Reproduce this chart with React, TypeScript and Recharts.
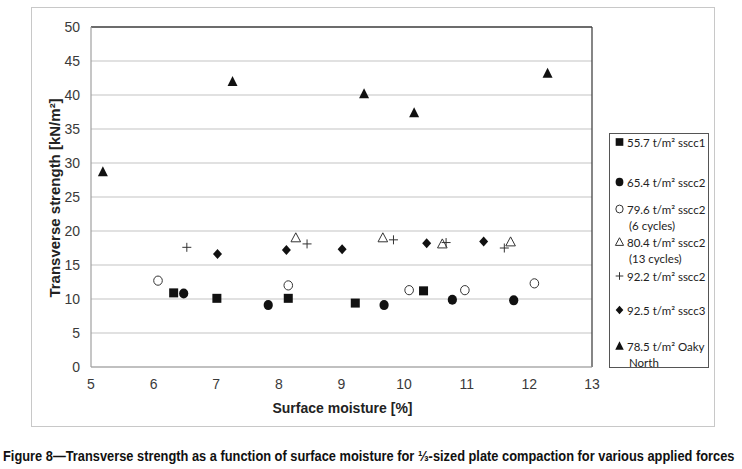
import React, { useLayoutEffect, useRef, useState } from 'react';
import {
  ScatterChart, Scatter, XAxis, YAxis, CartesianGrid, ReferenceLine,
} from 'recharts';

// Datos: [humedad superficial %, resistencia kN/m²]
const sscc1_557: [number, number][] = [
  [6.32, 10.9], [7.01, 10.1], [8.15, 10.1], [9.22, 9.4], [10.31, 11.2],
];
const sscc2_654: [number, number][] = [
  [6.48, 10.8], [7.83, 9.1], [9.68, 9.1], [10.77, 9.9], [11.75, 9.8],
];
const sscc2_796: [number, number][] = [
  [6.07, 12.7], [8.15, 12.0], [10.08, 11.3], [10.97, 11.3], [12.08, 12.3],
];
const sscc2_804: [number, number][] = [
  [8.27, 19.0], [9.66, 19.0], [10.61, 18.1], [11.7, 18.4],
];
const sscc2_922: [number, number][] = [
  [6.53, 17.6], [8.45, 18.1], [9.83, 18.7], [10.67, 18.3], [11.6, 17.5],
];
const sscc3_925: [number, number][] = [
  [7.02, 16.6], [8.12, 17.2], [9.01, 17.3], [10.36, 18.2], [11.27, 18.45],
];
const oaky_785: [number, number][] = [
  [5.19, 28.7], [7.26, 42.0], [9.36, 40.2], [10.16, 37.4], [12.29, 43.2],
];

const X_TICKS = [5, 6, 7, 8, 9, 10, 11, 12, 13];
const Y_TICKS = [0, 5, 10, 15, 20, 25, 30, 35, 40, 45, 50];

type Kind = 'square' | 'circle' | 'ocircle' | 'otriangle' | 'plus' | 'diamond' | 'triangle';

const SERIES: { name: string; sub?: string; kind: Kind; data: [number, number][] }[] = [
  { name: '55.7 t/m² sscc1', kind: 'square', data: sscc1_557 },
  { name: '65.4 t/m² sscc2', kind: 'circle', data: sscc2_654 },
  { name: '79.6 t/m² sscc2', sub: '(6 cycles)', kind: 'ocircle', data: sscc2_796 },
  { name: '80.4 t/m² sscc2', sub: '(13 cycles)', kind: 'otriangle', data: sscc2_804 },
  { name: '92.2 t/m² sscc2', kind: 'plus', data: sscc2_922 },
  { name: '92.5 t/m² sscc3', kind: 'diamond', data: sscc3_925 },
  { name: '78.5 t/m² Oaky', sub: 'North', kind: 'triangle', data: oaky_785 },
];

const CAPTION =
  'Figure 8—Transverse strength as a function of surface moisture for ⅓-sized plate compaction for various applied forces';

const toPoints = (d: [number, number][]) => d.map(([x, y]) => ({ x, y }));

const Marker = ({ cx, cy, kind, s = 1 }: { cx: number; cy: number; kind: Kind; s?: number }) => {
  const c = '#111';
  switch (kind) {
    case 'square':
      return <rect x={cx - 4.5 * s} y={cy - 4.5 * s} width={9 * s} height={9 * s} fill={c} />;
    case 'circle':
      return <ellipse cx={cx} cy={cy} rx={4.6 * s} ry={5 * s} fill={c} />;
    case 'ocircle':
      return <ellipse cx={cx} cy={cy} rx={4.3 * s} ry={4.6 * s} fill="#fff" stroke="#333" strokeWidth={1} />;
    case 'otriangle':
      return (
        <polygon
          points={`${cx},${cy - 5 * s} ${cx + 4.8 * s},${cy + 4 * s} ${cx - 4.8 * s},${cy + 4 * s}`}
          fill="#fff" stroke="#333" strokeWidth={1}
        />
      );
    case 'plus':
      return (
        <g stroke="#333" strokeWidth={1}>
          <line x1={cx - 4.5 * s} y1={cy} x2={cx + 4.5 * s} y2={cy} />
          <line x1={cx} y1={cy - 4.5 * s} x2={cx} y2={cy + 4.5 * s} />
        </g>
      );
    case 'diamond':
      return (
        <polygon
          points={`${cx},${cy - 5 * s} ${cx + 4.5 * s},${cy} ${cx},${cy + 5 * s} ${cx - 4.5 * s},${cy}`}
          fill={c}
        />
      );
    default:
      return (
        <polygon
          points={`${cx},${cy - 5.5 * s} ${cx + 5 * s},${cy + 4.5 * s} ${cx - 5 * s},${cy + 4.5 * s}`}
          fill={c}
        />
      );
  }
};

// separación vertical entre entradas de la leyenda
const LEGEND_GAPS = [0, 40, 27, 33, 34, 34, 36];

const LegendBox = () => (
  <div
    style={{
      position: 'absolute', left: 609, top: 133, width: 98, height: 233,
      border: '1px solid #555', background: '#fff',
      fontFamily: 'Lato, "Open Sans", sans-serif', fontSize: 11.5, color: '#222',
    }}
  >
    {SERIES.map((s, i) => {
      const top = 0.5 + LEGEND_GAPS.slice(0, i + 1).reduce((a, b) => a + b, 0);
      return (
        <div key={s.name} style={{ position: 'absolute', left: 4, top, lineHeight: '16px', whiteSpace: 'nowrap' }}>
          <svg width={12} height={12} style={{ verticalAlign: '-1px' }}>
            <Marker cx={5.5} cy={6} kind={s.kind} s={0.85} />
          </svg>
          <span style={{ marginLeft: 1 }}>{s.name}</span>
          {s.sub && <div style={{ paddingLeft: 15 }}>{s.sub}</div>}
        </div>
      );
    })}
  </div>
);

// texto escalado horizontalmente para ocupar un ancho dado
const FitText = ({ x, y, width, children, ...rest }: any) => {
  const ref = useRef<SVGTextElement>(null);
  const [sx, setSx] = useState(1);
  useLayoutEffect(() => {
    if (ref.current) {
      const w = ref.current.getComputedTextLength();
      if (w > 0) setSx(width / w);
    }
  }, [width]);
  return (
    <text ref={ref} transform={`translate(${x} ${y}) scale(${sx} 1)`} {...rest}>
      {children}
    </text>
  );
};

const tickStyle = { fontFamily: '"Liberation Sans Narrow", Arial, sans-serif', fontSize: 14, fill: '#3a3a3a' };

export default function App() {
  return (
    <div style={{ position: 'absolute', left: 0, top: 0, width: 742, height: 469, background: '#fff', overflow: 'hidden' }}>
      <div
        style={{
          position: 'absolute', left: 31, top: 7, width: 682, height: 418,
          border: '1px solid #c8c8c8',
        }}
      />
      <div style={{ position: 'absolute', left: 0, top: 0 }}>
        <ScatterChart width={742} height={430} margin={{ top: 27, right: 150, bottom: 18, left: 51 }}>
          <CartesianGrid vertical={false} stroke="#c4c4c4" strokeWidth={1.2} />
          <XAxis
            type="number" dataKey="x" domain={[5, 13]} ticks={X_TICKS} height={45}
            tickLine={false} tickSize={0} tickMargin={12} axisLine={{ stroke: '#a0a0a0', strokeWidth: 1.2 }}
            tick={tickStyle} allowDataOverflow
          />
          <YAxis
            type="number" dataKey="y" domain={[0, 50]} ticks={Y_TICKS} width={40}
            tickLine={false} tickSize={0} tickMargin={11} axisLine={{ stroke: '#a0a0a0', strokeWidth: 1.2 }}
            tick={tickStyle}
          />
          <ReferenceLine y={50} stroke="#444" strokeWidth={1.3} />
          <ReferenceLine x={13} stroke="#444" strokeWidth={1.3} />
          {SERIES.map((s) => (
            <Scatter
              key={s.name}
              name={s.name}
              data={toPoints(s.data)}
              isAnimationActive={false}
              shape={(p: any) => <Marker cx={p.cx} cy={p.cy} kind={s.kind} />}
            />
          ))}
        </ScatterChart>
      </div>
      <LegendBox />
      <svg width={742} height={469} style={{ position: 'absolute', left: 0, top: 0, pointerEvents: 'none' }}>
        <text
          x={60} y={198} transform="rotate(-90 60 198)" textAnchor="middle"
          fontFamily='"Liberation Sans", Arial, sans-serif' fontWeight="bold" fontSize={15} fill="#222"
        >
          Transverse strength [kN/m²]
        </text>
        <text
          x={342.5} y={412.5} textAnchor="middle"
          fontFamily='"Liberation Sans", Arial, sans-serif' fontWeight="bold" fontSize={14} fill="#222"
        >
          Surface moisture [%]
        </text>
        <FitText
          x={3} y={460.5} width={732}
          fontFamily='"Liberation Sans Narrow", Arial, sans-serif' fontWeight="bold" fontSize={14} fill="#111"
        >
          {CAPTION}
        </FitText>
      </svg>
    </div>
  );
}
